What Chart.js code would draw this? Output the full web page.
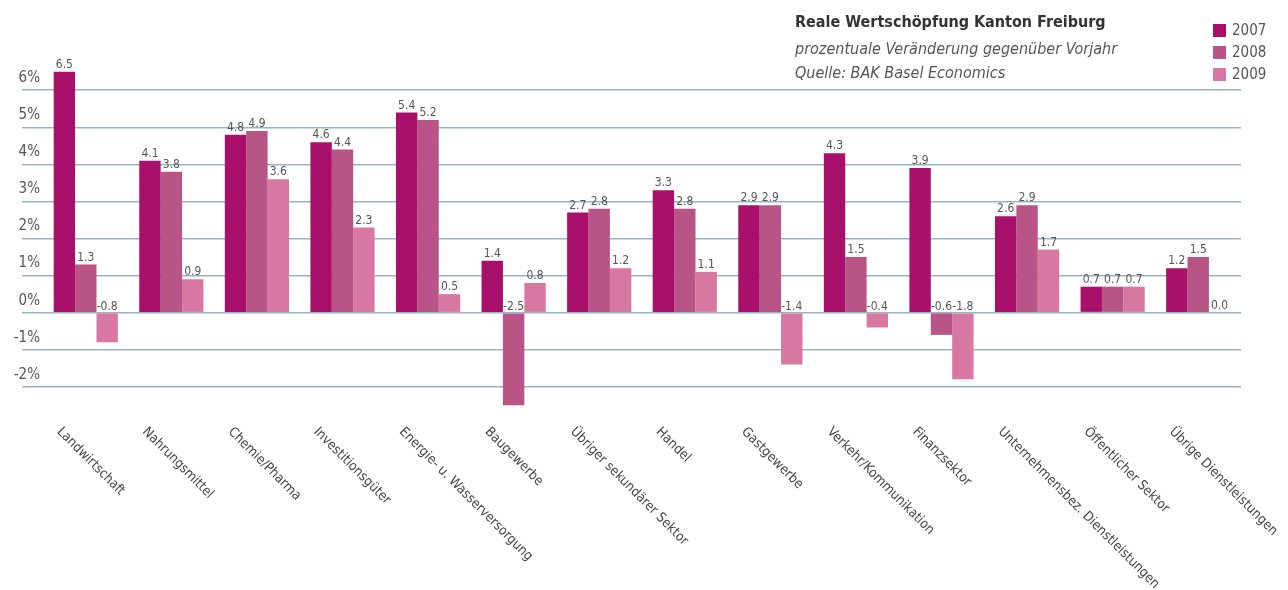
<!DOCTYPE html>
<html lang="de">
<head>
<meta charset="utf-8">
<title>Reale Wertschöpfung Kanton Freiburg</title>
<script src="https://cdn.jsdelivr.net/npm/chart.js@4.4.1/dist/chart.umd.min.js"></script>
<style>
    html, body { margin: 0; padding: 0; background: #ffffff; }
    #wrap { width: 1288px; height: 590px; position: relative; }
</style>
</head>
<body>
<div id="wrap"><canvas id="wertschoepfungChart"></canvas></div>
<script>
// Daten (prozentuale Veränderung gegenüber Vorjahr)
const branchen = [
    'Landwirtschaft', 'Nahrungsmittel', 'Chemie/Pharma', 'Investitionsgüter',
    'Energie- u. Wasserversorgung', 'Baugewerbe', 'Übriger sekundärer Sektor',
    'Handel', 'Gastgewerbe', 'Verkehr/Kommunikation', 'Finanzsektor',
    'Unternehmensbez. Dienstleistungen', 'Öffentlicher Sektor', 'Übrige Dienstleistungen'
];
const jahre = ['2007', '2008', '2009'];
const werte2007 = [6.5, 4.1, 4.8, 4.6, 5.4, 1.4, 2.7, 3.3, 2.9, 4.3, 3.9, 2.6, 0.7, 1.2];
const werte2008 = [1.3, 3.8, 4.9, 4.4, 5.2, -2.5, 2.8, 2.8, 2.9, 1.5, -0.6, 2.9, 0.7, 1.5];
const werte2009 = [-0.8, 0.9, 3.6, 2.3, 0.5, 0.8, 1.2, 1.1, -1.4, -0.4, -1.8, 1.7, 0.7, 0.0];

const titel = 'Reale Wertschöpfung Kanton Freiburg';
const untertitel = ['prozentuale Veränderung gegenüber Vorjahr', 'Quelle: BAK Basel Economics'];

const farben = ['#a8106b', '#b85586', '#d878a2'];
const FONT = "'Liberation Sans Narrow', 'DejaVu Sans Condensed', 'Roboto', sans-serif";
const gridFarbe = '#9ab2c6';

// Werte über den Balken (bei negativen Werten über der Nulllinie)
const wertLabels = {
    id: 'wertLabels',
    afterDatasetsDraw(chart) {
        const ctx = chart.ctx;
        ctx.save();
        ctx.font = '12px ' + FONT;
        ctx.fillStyle = '#555555';
        ctx.textAlign = 'center';
        ctx.textBaseline = 'bottom';
        chart.data.datasets.forEach((ds, i) => {
            const meta = chart.getDatasetMeta(i);
            meta.data.forEach((bar, j) => {
                const y = Math.min(bar.y, bar.base) - 1;
                ctx.fillText(ds.data[j].toFixed(1), bar.x, y);
            });
        });
        ctx.restore();
    }
};

// Schräge Beschriftung der Kategorien
const kategorieLabels = {
    id: 'kategorieLabels',
    afterDraw(chart) {
        const ctx = chart.ctx;
        const xScale = chart.scales.x;
        ctx.save();
        ctx.font = '13.5px ' + FONT;
        ctx.fillStyle = '#444444';
        ctx.textAlign = 'left';
        ctx.textBaseline = 'top';
        branchen.forEach((name, i) => {
            const x = xScale.getPixelForValue(i);
            ctx.save();
            ctx.translate(x - 22, 425);
            ctx.rotate(45 * Math.PI / 180);
            ctx.fillText(name, 0, 0);
            ctx.restore();
        });
        ctx.restore();
    }
};

// Titelblock und Legende oben rechts
const kopfzeile = {
    id: 'kopfzeile',
    afterDraw(chart) {
        const ctx = chart.ctx;
        ctx.save();
        ctx.textAlign = 'left';
        ctx.textBaseline = 'alphabetic';
        ctx.fillStyle = '#333333';
        ctx.font = 'bold 16px ' + FONT;
        ctx.fillText(titel, 795, 27);
        ctx.fillStyle = '#555555';
        ctx.font = 'italic 16px ' + FONT;
        ctx.fillText(untertitel[0], 795, 54);
        ctx.fillText(untertitel[1], 795, 78);

        ctx.font = '15px ' + FONT;
        ctx.textBaseline = 'middle';
        chart.data.datasets.forEach((ds, i) => {
            ctx.fillStyle = ds.backgroundColor;
            ctx.fillRect(1213, 24 + i * 22, 13, 13);
            ctx.fillStyle = '#555555';
            ctx.fillText(ds.label, 1232, 31 + i * 22);
        });
        ctx.restore();
    }
};

const ctxChart = document.getElementById('wertschoepfungChart').getContext('2d');
const wertschoepfungChart = new Chart(ctxChart, {
    type: 'bar',
    data: {
        labels: branchen,
        datasets: [
            { label: jahre[0], data: werte2007, backgroundColor: farben[0] },
            { label: jahre[1], data: werte2008, backgroundColor: farben[1] },
            { label: jahre[2], data: werte2009, backgroundColor: farben[2] }
        ]
    },
    options: {
        responsive: true,
        maintainAspectRatio: false,
        animation: false,
        categoryPercentage: 0.75,
        barPercentage: 1.0,
        layout: {
            padding: { top: 68, bottom: 181, left: 0, right: 47 }
        },
        plugins: {
            legend: { display: false },
            tooltip: { enabled: false }
        },
        scales: {
            x: {
                display: false
            },
            y: {
                min: -2.6,
                max: 6.6,
                afterBuildTicks: (scale) => {
                    scale.ticks = scale.ticks.filter(t => Number.isInteger(t.value));
                },
                afterFit: (scale) => { scale.width = 43; },
                border: { display: false },
                grid: {
                    color: gridFarbe,
                    lineWidth: 1.5,
                    tickLength: 21,
                    drawTicks: true
                },
                ticks: {
                    stepSize: 1,
                    crossAlign: 'near',
                    padding: -18,
                    labelOffset: -12,
                    color: '#555555',
                    font: { family: FONT, size: 15 },
                    callback: (v) => v + '%'
                }
            }
        }
    },
    plugins: [wertLabels, kategorieLabels, kopfzeile]
});
</script>
</body>
</html>
